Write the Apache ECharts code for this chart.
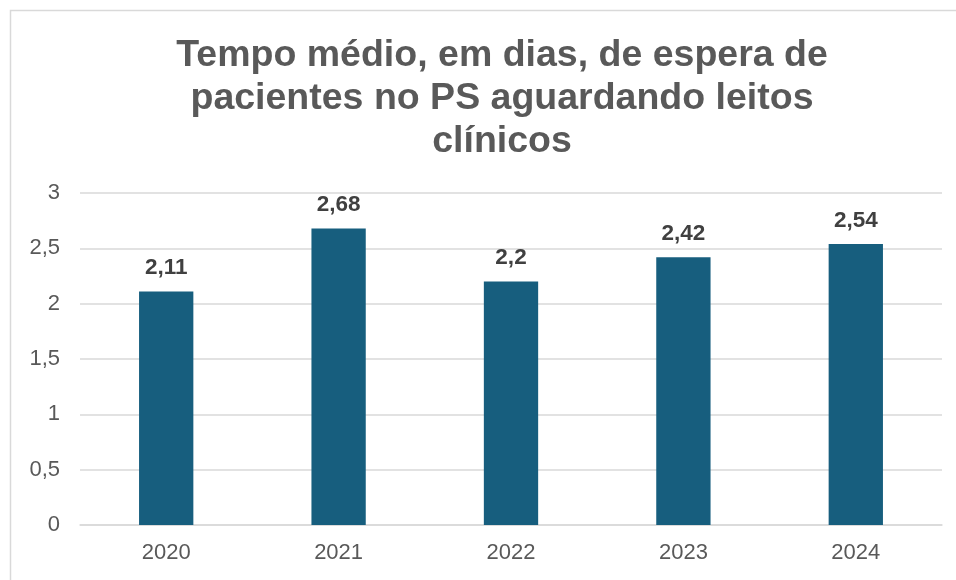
<!DOCTYPE html>
<html>
<head>
<meta charset="utf-8">
<script src="https://cdn.jsdelivr.net/npm/echarts@6/dist/echarts.min.js"></script>
<style>
  html, body { margin: 0; padding: 0; background: #ffffff; }
  #chart { width: 956px; height: 580px; }
</style>
</head>
<body>
<div id="chart"></div>
<script>
// Waiting time (days) in the emergency room for clinical beds, by year
const categories = ['2020', '2021', '2022', '2023', '2024'];
const values = [2.11, 2.68, 2.2, 2.42, 2.54];
const titleLines = [
  'Tempo médio, em dias, de espera de',
  'pacientes no PS aguardando leitos',
  'clínicos'
];

const fmt = v => String(v).replace('.', ',');

const chart = echarts.init(document.getElementById('chart'), null, { renderer: 'canvas' });

chart.setOption({
  backgroundColor: '#ffffff',
  animation: false,
  textStyle: { fontFamily: 'Liberation Sans, Arial, sans-serif' },
  graphic: [{
    type: 'rect',
    shape: { x: 10.5, y: 10.5, width: 960, height: 600 },
    style: { fill: 'none', stroke: '#d9d9d9', lineWidth: 1.5 },
    silent: true,
    z: -1
  }],
  title: {
    text: titleLines.join('\n'),
    left: 497,
    textAlign: 'center',
    top: 29,
    textStyle: {
      fontFamily: 'Liberation Sans, Arial, sans-serif',
      fontSize: 37.5,
      fontWeight: 'bold',
      color: '#595959',
      lineHeight: 43
    }
  },
  grid: { left: 80, right: 14, top: 193, bottom: 55, containLabel: false },
  xAxis: {
    type: 'category',
    data: categories,
    axisTick: { show: false },
    axisLine: { lineStyle: { color: '#d9d9d9', width: 1.5 } },
    axisLabel: { color: '#595959', fontSize: 22, margin: 17 }
  },
  yAxis: {
    type: 'value',
    min: 0,
    max: 3,
    interval: 0.5,
    axisLine: { show: false },
    axisTick: { show: false },
    splitLine: { lineStyle: { color: '#d9d9d9', width: 1.5 } },
    axisLabel: { color: '#595959', fontSize: 22, margin: 20, formatter: v => fmt(v) }
  },
  series: [{
    type: 'bar',
    data: values,
    barWidth: '31.5%',
    itemStyle: { color: '#175e7e' },
    label: {
      show: true,
      position: 'top',
      distance: 12,
      color: '#404040',
      fontSize: 22.5,
      fontWeight: 'bold',
      formatter: p => fmt(p.value)
    }
  }]
});
</script>
</body>
</html>
